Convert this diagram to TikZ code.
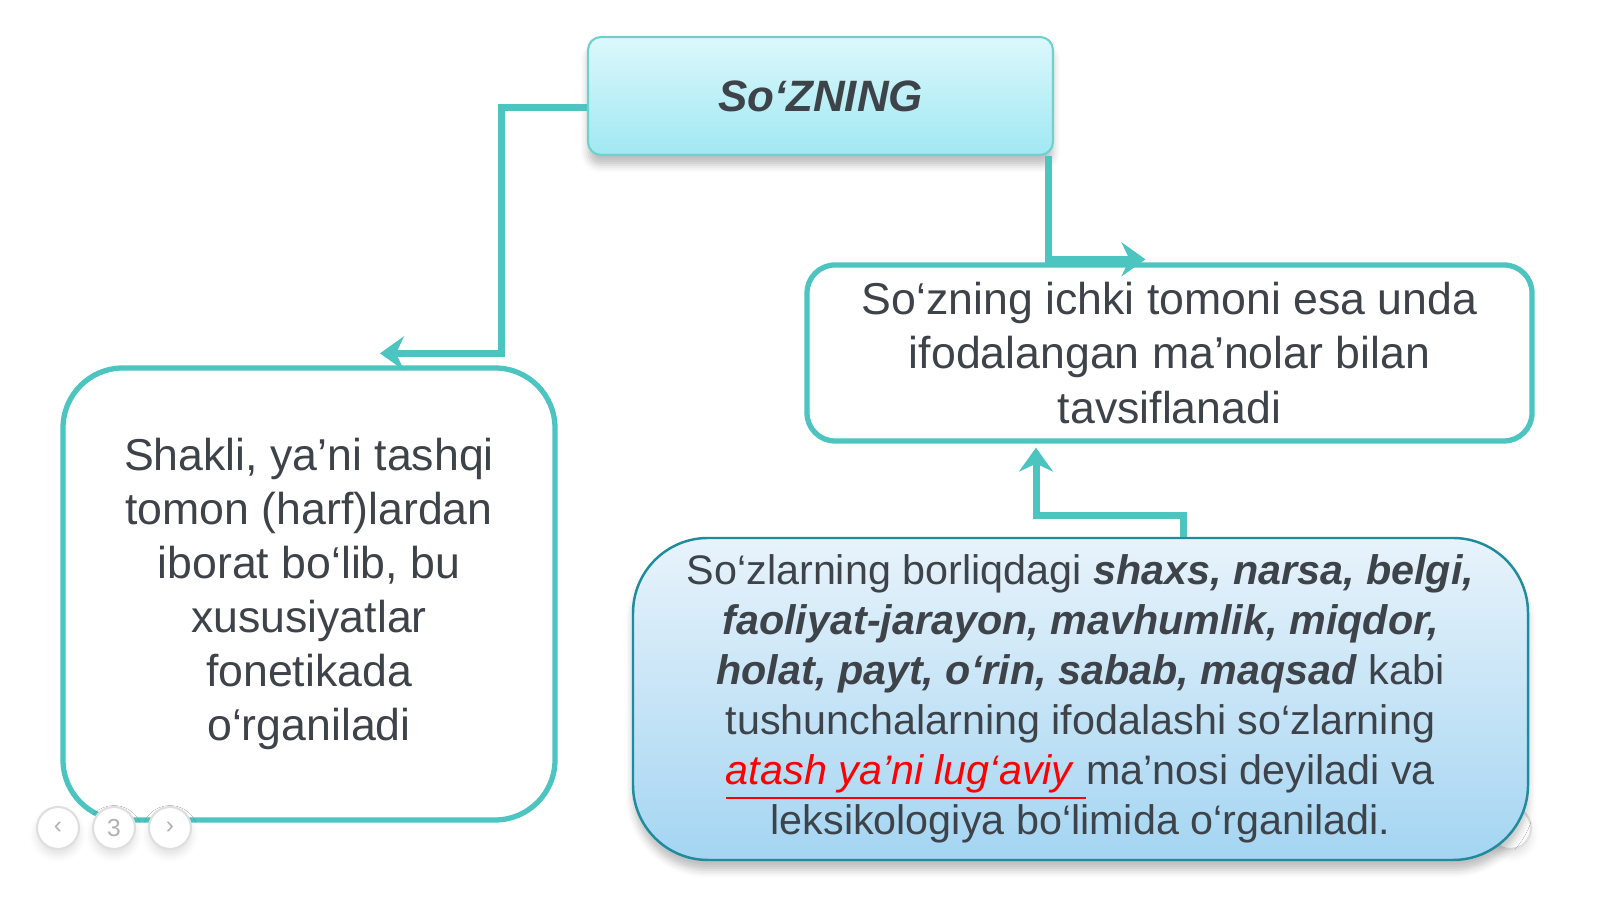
\documentclass[tikz,border=0pt]{standalone}
\usepackage{fontspec}
\setmainfont{Liberation Sans}
\usepackage{tikz}
\usetikzlibrary{arrows.meta,calc,shadows.blur}
\definecolor{lineteal}{HTML}{4CC4C0}
\definecolor{edgeteal}{HTML}{1E8C9C}
\definecolor{txtgray}{HTML}{3E434A}
\definecolor{cyantop}{HTML}{DCF8FC}
\definecolor{cyanbot}{HTML}{A0E8F2}
\definecolor{bluetop}{HTML}{E8F3FB}
\definecolor{bluebot}{HTML}{A4D5F2}
\newcommand{\clrline}{lineteal}
\newcommand{\clredge}{edgeteal}

\tikzset{
    box/.style={draw=\clrline, line width=1.5pt, fill=white, align=center, text=txtgray, inner sep=0pt,
        font=\fontsize{12.7}{15.4}\selectfont},
    conn/.style={draw=\clrline, line width=2pt, -{Stealth[length=2.4mm,width=3.4mm,inset=0.8mm]}},
    navbtn/.style={circle, draw=gray!25, line width=0.6pt, minimum size=4.2mm, inner sep=0pt,
        text=gray!60, font=\fontsize{7}{8}\selectfont,
        blur shadow={shadow xshift=0pt, shadow yshift=-0.6mm, shadow opacity=12, shadow blur steps=4}},
}

\begin{document}
\begin{tikzpicture}
    % page buttons
    \node[navbtn, fill=white] (btnend) at (15.10,0.71) {};

    % top title
    \node[draw=\clrline!80, line width=0.6pt, rounded corners=0.13cm, top color=cyantop, bottom color=cyanbot,
        minimum width=4.65cm, minimum height=1.18cm, text=txtgray, font=\fontsize{12.5}{15}\selectfont,
        blur shadow={shadow xshift=0pt, shadow yshift=-1mm, shadow opacity=25}]
        (title) at (8.205,8.03) {\textbf{\textit{So‘ZNING}}};

    % left box: shape
    \node[box, rounded corners=0.6cm, minimum width=4.92cm, minimum height=4.52cm]
        (shakl) at (3.09,3.05) {Shakli, ya’ni tashqi\\tomon (harf)lardan\\iborat bo‘lib, bu\\xususiyatlar\\fonetikada\\o‘rganiladi};

    % right box: meaning
    \node[box, rounded corners=0.28cm, minimum width=7.25cm, minimum height=1.76cm]
        (mano) at (11.695,5.46) {So‘zning ichki tomoni esa unda\\ifodalangan ma’nolar bilan\\tavsiflanadi};

    % bottom box: lexical meaning
    \node[box, draw=\clredge, line width=0.7pt, rounded corners=0.75cm, top color=bluetop, bottom color=bluebot,
        minimum width=8.95cm, minimum height=3.22cm, font=\fontsize{11.75}{14.2}\selectfont,
        blur shadow={shadow xshift=0pt, shadow yshift=-1mm, shadow opacity=25}]
        (lugat) at (10.805,2.00) {So‘zlarning borliqdagi \textbf{\textit{shaxs, narsa, belgi,}}\\
        \textbf{\textit{faoliyat-jarayon, mavhumlik, miqdor,}}\\
        \textbf{\textit{holat, payt, o‘rin, sabab, maqsad}} kabi\\
        tushunchalarning ifodalashi so‘zlarning\\
        \textcolor{red}{\underline{\textit{atash ya’ni lug‘aviy\ }}}ma’nosi deyiladi va\\
        leksikologiya bo‘limida o‘rganiladi.};

    % connectors
    \draw[conn] ([yshift=-1.2mm]title.west) -- ++(-0.85,0) |- ([xshift=7.1mm,yshift=1.2mm]shakl.north);
    \draw[conn] ([xshift=-0.6mm]title.south east) |- ([xshift=-2.4mm,yshift=0.3mm]mano.north);
    \draw[conn] ([xshift=10.25mm]lugat.north) -- ++(0,0.21) -| ([xshift=-13.35mm,yshift=-0.4mm]mano.south);

    \node[navbtn, fill=white] (btnprev) at (0.58,0.71) {‹};
    \node[navbtn, fill=white] (btnpage) at (1.14,0.71) {3};
    \node[navbtn, fill=white] (btnnext) at (1.70,0.71) {›};

    \pgfresetboundingbox
    \useasboundingbox (0,0) rectangle (16,8.99);
\end{tikzpicture}
\end{document}
